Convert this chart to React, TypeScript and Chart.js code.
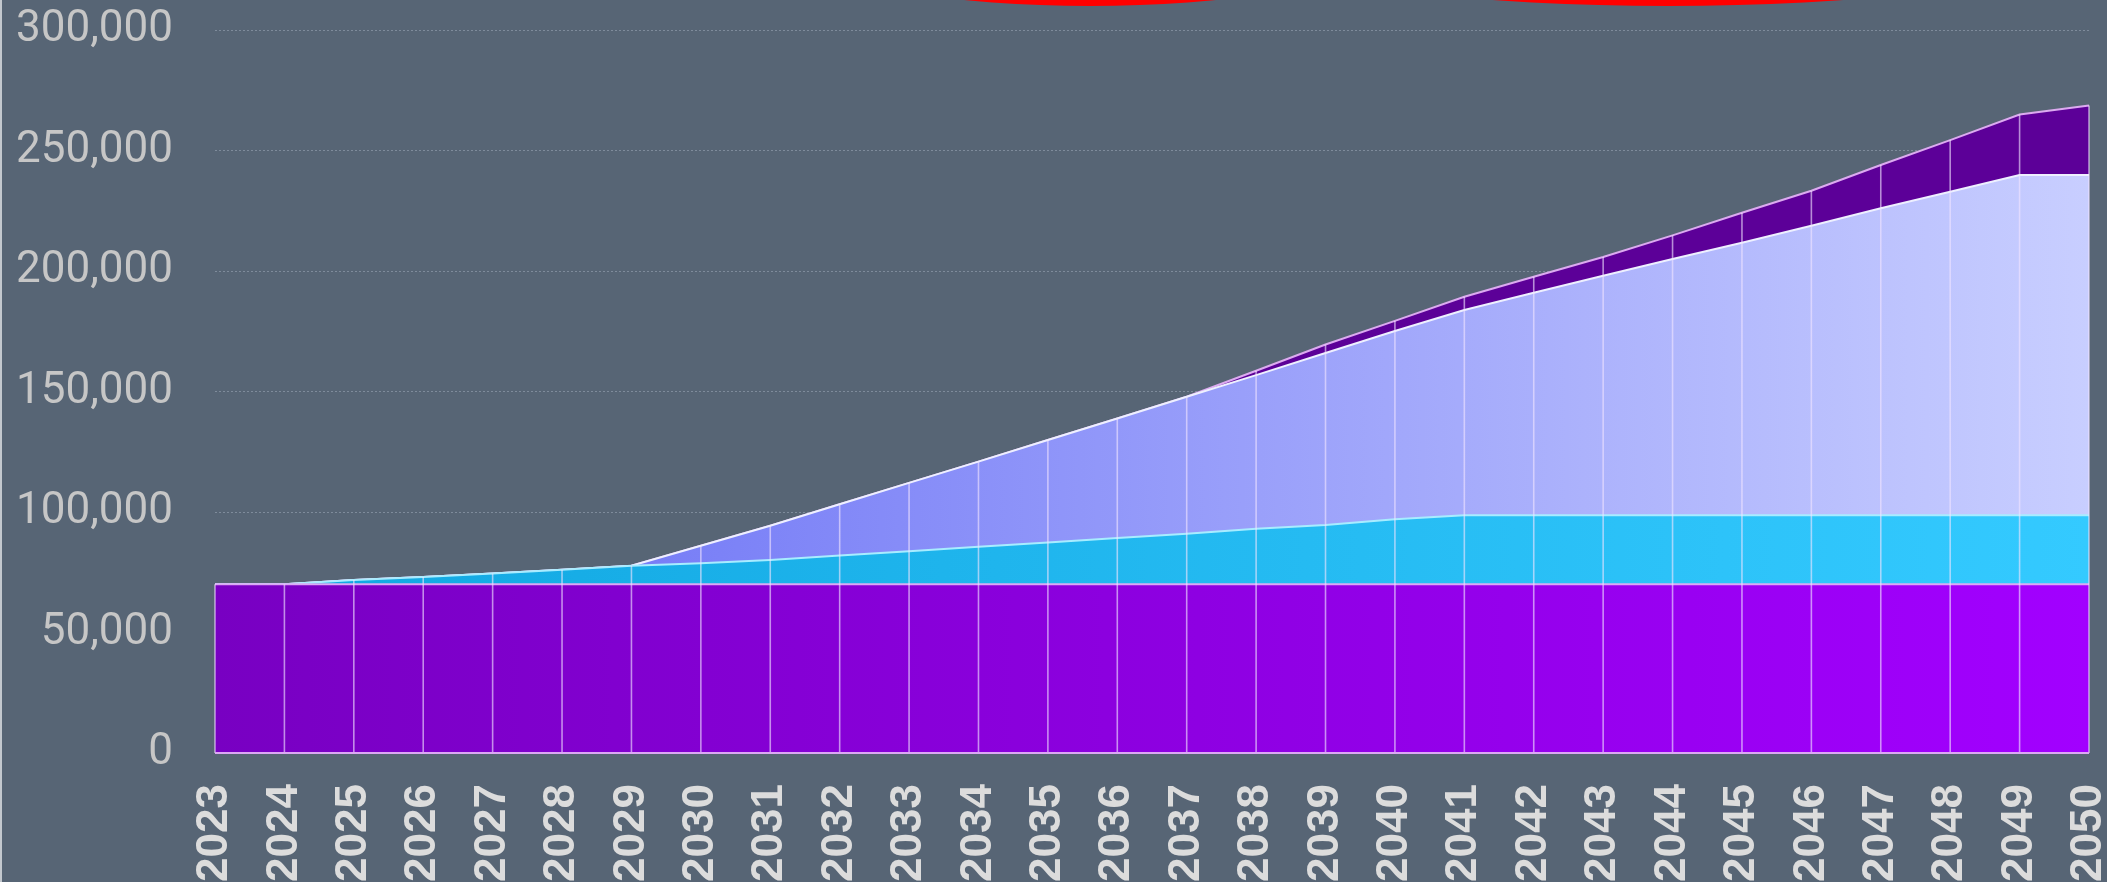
import { useEffect, useRef } from "react";
import { Chart, registerables } from "chart.js";

Chart.register(...registerables);

const categories = [
  "2023", "2024", "2025", "2026", "2027", "2028", "2029", "2030", "2031", "2032",
  "2033", "2034", "2035", "2036", "2037", "2038", "2039", "2040", "2041", "2042",
  "2043", "2044", "2045", "2046", "2047", "2048", "2049", "2050",
];

const baseSeries = [
  70000, 70000, 70000, 70000, 70000, 70000, 70000, 70000, 70000, 70000,
  70000, 70000, 70000, 70000, 70000, 70000, 70000, 70000, 70000, 70000,
  70000, 70000, 70000, 70000, 70000, 70000, 70000, 70000,
];

const cyanSeries = [
  0, 0, 1800, 3000, 4500, 6000, 7700, 8700, 10100, 11900,
  13700, 15600, 17300, 19200, 21000, 23000, 24600, 27000, 28700, 28700,
  28700, 28700, 28700, 28700, 28700, 28700, 28700, 28700,
];

const lavenderSeries = [
  0, 0, 0, 0, 0, 0, 0, 7300, 14200, 21300,
  28400, 35300, 42600, 49600, 56800, 63800, 71400, 78100, 85100, 92300,
  99300, 106300, 113000, 120100, 127300, 134200, 141100, 141100,
];

const darkSeries = [
  0, 0, 0, 0, 0, 0, 0, 0, 0, 0,
  0, 0, 0, 0, 0, 1800, 3500, 4200, 5500, 6600,
  7800, 9800, 12500, 14500, 18000, 21400, 25100, 28900,
];

const yTicks = [0, 50000, 100000, 150000, 200000, 250000, 300000];

function hGrad(c0: string, c1: string) {
  return (ctx: any) => {
    const chart = ctx.chart;
    const a = chart.chartArea;
    if (!a) return c0;
    const g = chart.ctx.createLinearGradient(a.left, 0, a.right, 0);
    g.addColorStop(0, c0);
    g.addColorStop(1, c1);
    return g;
  };
}

const columnLines = {
  id: "columnLines",
  afterDatasetsDraw(chart: any) {
    const { ctx } = chart;
    const xs = chart.scales.x;
    const ys = chart.scales.y;
    const metas = chart.getSortedVisibleDatasetMetas();
    const y0 = ys.getPixelForValue(0);
    ctx.save();
    ctx.strokeStyle = "rgba(240,228,255,0.62)";
    ctx.lineWidth = 1.6;
    for (let i = 0; i < categories.length; i++) {
      const x = xs.getPixelForValue(i);
      let top = y0;
      for (const m of metas) {
        const p = m.data[i];
        if (p && p.y < top) top = p.y;
      }
      ctx.beginPath();
      ctx.moveTo(x, y0);
      ctx.lineTo(x, top);
      ctx.stroke();
    }
    ctx.strokeStyle = "#dca8f4";
    ctx.lineWidth = 2;
    ctx.beginPath();
    ctx.moveTo(chart.chartArea.left, y0);
    ctx.lineTo(chart.chartArea.right, y0);
    ctx.stroke();
    ctx.restore();
  },
  afterDraw(chart: any) {
    const { ctx } = chart;
    ctx.save();
    ctx.fillStyle = "#ff0000";
    ctx.beginPath();
    ctx.ellipse(1088, -40, 255, 46, 0, 0, Math.PI * 2);
    ctx.fill();
    ctx.beginPath();
    ctx.ellipse(1666, -40, 355, 46, 0, 0, Math.PI * 2);
    ctx.fill();
    ctx.restore();
  },
};

function zeroPad(s: any) {
  s.paddingLeft = 0;
  s.paddingRight = 0;
  s.paddingTop = 0;
  s.paddingBottom = 0;
}

export default function App() {
  const ref = useRef<HTMLCanvasElement>(null);
  useEffect(() => {
    document.body.style.margin = "0";
    const canvas = ref.current;
    if (!canvas) return;
    const common = { pointRadius: 0, borderWidth: 2, tension: 0 };
    const chart = new Chart(canvas, {
      type: "line",
      data: {
        labels: categories,
        datasets: [
          {
            ...common,
            label: "Base",
            data: baseSeries,
            fill: "origin",
            backgroundColor: hGrad("#7800c2", "#a200ff"),
            borderColor: "#dca8f4",
          },
          {
            ...common,
            label: "Cyan",
            data: cyanSeries,
            fill: "-1",
            backgroundColor: hGrad("#10a6e0", "#34caff"),
            borderColor: "#a8ecff",
          },
          {
            ...common,
            label: "Lavender",
            data: lavenderSeries,
            fill: "-1",
            backgroundColor: hGrad("#6066f4", "#c8ceff"),
            borderColor: "#eef0ff",
          },
          {
            ...common,
            label: "Dark",
            data: darkSeries,
            fill: "-1",
            backgroundColor: "#5c0098",
            borderColor: "#dcaaf0",
          },
        ],
      } as any,
      options: {
        responsive: true,
        maintainAspectRatio: false,
        animation: false,
        layout: { padding: { top: 30, right: 18, left: 0, bottom: 0 } },
        plugins: { legend: { display: false }, tooltip: { enabled: false } },
        scales: {
          x: {
            grid: { display: false },
            border: { display: false },
            ticks: {
              color: "#dcdcdc",
              font: { family: "Liberation Sans", weight: "bold", size: 44 },
              minRotation: 90,
              maxRotation: 90,
              autoSkip: false,
              padding: 23,
            },
            afterFit: (s: any) => {
              s.height = 129;
              zeroPad(s);
            },
          },
          y: {
            stacked: true,
            min: 0,
            max: 300000,
            afterBuildTicks: (s: any) => {
              s.ticks = yTicks.map((v) => ({ value: v }));
            },
            ticks: {
              color: "#c6c6c6",
              font: { family: "Roboto", size: 44 },
              padding: 42,
              callback: (v: any) => Number(v).toLocaleString("en-US"),
            },
            grid: { color: "rgba(200,212,225,0.35)", drawTicks: false, lineWidth: 1 },
            border: { display: false, dash: [2, 2] },
            afterFit: (s: any) => {
              s.width = 213;
              zeroPad(s);
            },
          },
        },
      } as any,
      plugins: [columnLines],
    });
    return () => chart.destroy();
  }, []);
  return (
    <div
      style={{
        position: "fixed",
        left: 0,
        top: 0,
        width: 2107,
        height: 882,
        background: "#576575",
        boxSizing: "border-box",
        borderLeft: "2px solid #c3c8ce",
      }}
    >
      <div style={{ position: "relative", width: 2105, height: 882 }}>
        <canvas ref={ref} />
      </div>
    </div>
  );
}
